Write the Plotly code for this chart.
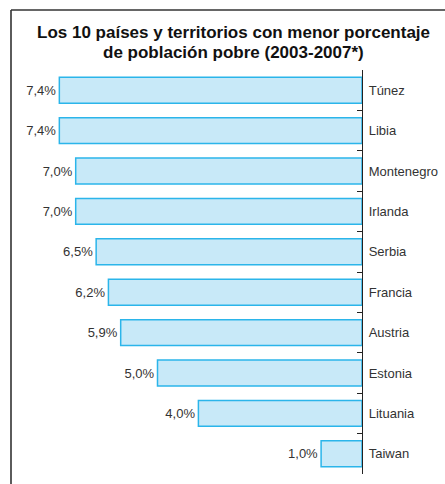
import plotly.graph_objects as go

countries = ["Túnez", "Libia", "Montenegro", "Irlanda", "Serbia", "Francia",
             "Austria", "Estonia", "Lituania", "Taiwan"]
values = [7.4, 7.4, 7.0, 7.0, 6.5, 6.2, 5.9, 5.0, 4.0, 1.0]
labels = ["7,4%", "7,4%", "7,0%", "7,0%", "6,5%", "6,2%", "5,9%", "5,0%", "4,0%", "1,0%"]
title_lines = ["Los 10 países y territorios con menor porcentaje",
               "de población pobre (2003-2007*)"]

W, H = 445, 484
ML, MR, MT, MB = 15, 83, 70, 10
PW, PH = W - ML - MR, H - MT - MB

def px(x):
    return (x - ML) / PW

def py(y):
    return 1 - (y - MT) / PH

fig = go.Figure(go.Bar(
    x=values, y=countries, orientation="h",
    text=labels, textposition="outside", cliponaxis=False,
    textfont=dict(family="Liberation Sans", size=13, color="#333333"),
    marker=dict(color="#c8e9f8", line=dict(color="#2bb5ea", width=1.5)),
    width=0.64,
))

fig.update_layout(
    width=W, height=H,
    margin=dict(l=ML, r=MR, t=MT, b=MB, autoexpand=False),
    paper_bgcolor="white", plot_bgcolor="white",
    showlegend=False,
    xaxis=dict(range=[(W - MR - ML) / 40.9, 0], visible=False, fixedrange=True,
               automargin=False),
    yaxis=dict(side="right", autorange="reversed", type="category",
               automargin=False,
               showline=True, linecolor="#222222", linewidth=1.2,
               ticks="inside", ticklen=5, tickcolor="#222222", tickwidth=1.2,
               tickson="boundaries", showgrid=False, zeroline=False,
               ticklabelstandoff=3,
               tickfont=dict(family="Liberation Sans", size=13, color="#333333")),
    shapes=[
        dict(type="line", xref="paper", yref="paper", x0=px(11), x1=px(11),
             y0=py(10), y1=py(500), line=dict(color="#333333", width=1.6)),
        dict(type="line", xref="paper", yref="paper", x0=px(11), x1=px(460),
             y0=py(10), y1=py(10), line=dict(color="#333333", width=1.6)),
    ],
    annotations=[
        dict(text="<b>%s</b>" % title_lines[0], xref="paper", yref="paper",
             x=px(233), y=py(33), xanchor="center", yanchor="middle", showarrow=False,
             font=dict(family="Liberation Sans", size=17, color="#111111")),
        dict(text="<b>%s</b>" % title_lines[1], xref="paper", yref="paper",
             x=px(233), y=py(53), xanchor="center", yanchor="middle", showarrow=False,
             font=dict(family="Liberation Sans", size=17, color="#111111")),
    ],
)

fig.write_html("out.html", config={"displayModeBar": False},
               post_script="document.body.style.margin='0';")
